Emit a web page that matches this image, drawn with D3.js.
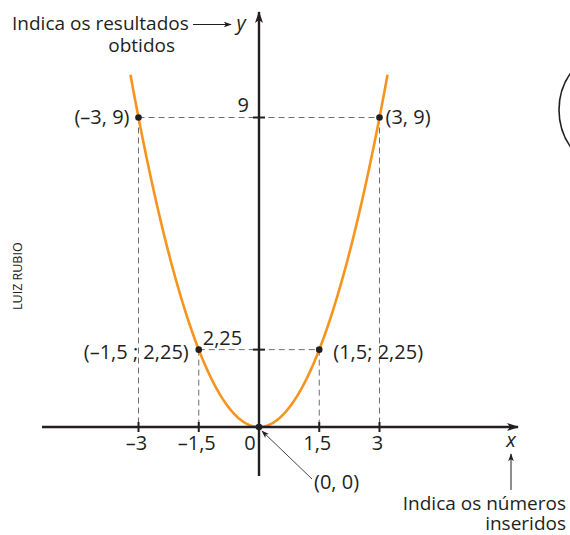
<!DOCTYPE html>
<html>
<head>
<meta charset="utf-8">
<script src="https://cdn.jsdelivr.net/npm/d3@7"></script>
<style>
  html, body { margin: 0; padding: 0; background: #fff; }
  svg text { font-family: "Open Sans", "Noto Sans", sans-serif; fill: #231f20; }
</style>
</head>
<body>
<svg id="chart" width="570" height="535"></svg>
<script>
// y = x² with the highlighted points
const markedX = [-3, -1.5, 0, 1.5, 3];
const markedY = [9, 2.25, 0, 2.25, 9];
const pointLabels = ["(–3, 9)", "(–1,5 ; 2,25)", "(0, 0)", "(1,5; 2,25)", "(3, 9)"];
const xTickValues = [-3, -1.5, 1.5, 3];
const xTickLabels = ["–3", "–1,5", "1,5", "3"];
const yTickValues = [9, 2.25];
const yTickLabels = ["9", "2,25"];
const curveDomain = [-3.2, 3.2];

const svg = d3.select("#chart");
const ink = "#231f20";
const orange = "#f7941d";

const x = d3.scaleLinear().domain([-3, 3]).range([138.5, 379.5]);
const y = d3.scaleLinear().domain([0, 9]).range([427, 117.5]);

// arrowhead markers
const defs = svg.append("defs");
defs.append("marker")
  .attr("id", "head").attr("viewBox", "0 0 12 8")
  .attr("refX", 11).attr("refY", 4)
  .attr("markerWidth", 12).attr("markerHeight", 8)
  .attr("markerUnits", "userSpaceOnUse").attr("orient", "auto")
  .append("path").attr("d", "M0,0 L12,4 L0,8 L3,4 Z").attr("fill", ink);
defs.append("marker")
  .attr("id", "headSmall").attr("viewBox", "0 0 10 7")
  .attr("refX", 9).attr("refY", 3.5)
  .attr("markerWidth", 8).attr("markerHeight", 6)
  .attr("markerUnits", "userSpaceOnUse").attr("orient", "auto")
  .append("path").attr("d", "M0,0 L10,3.5 L0,7 L2.5,3.5 Z").attr("fill", ink);

// dashed guides
const guides = svg.append("g").attr("stroke", "#6d6e71").attr("stroke-width", 1)
  .attr("stroke-dasharray", "6,4").attr("fill", "none");
markedX.forEach((v, i) => {
  if (v === 0) return;
  guides.append("line")
    .attr("x1", x(v)).attr("x2", x(v))
    .attr("y1", y(markedY[i])).attr("y2", y(0));
});
[[-3, 3, 9], [-1.5, 1.5, 2.25]].forEach(([a, b, v]) => {
  guides.append("line")
    .attr("x1", x(a)).attr("x2", x(b))
    .attr("y1", y(v)).attr("y2", y(v));
});

// parabola
const curvePts = d3.range(curveDomain[0], curveDomain[1] + 0.001, 0.02).map(v => [v, v * v]);
svg.append("path")
  .datum(curvePts)
  .attr("fill", "none").attr("stroke", orange).attr("stroke-width", 2.6)
  .attr("d", d3.line().x(d => x(d[0])).y(d => y(d[1])));

// axes
svg.append("line").attr("x1", 42).attr("x2", 518).attr("y1", y(0)).attr("y2", y(0))
  .attr("stroke", ink).attr("stroke-width", 2.4).attr("marker-end", "url(#head)");
svg.append("line").attr("x1", x(0)).attr("x2", x(0)).attr("y1", 476).attr("y2", 12)
  .attr("stroke", ink).attr("stroke-width", 2.4).attr("marker-end", "url(#head)");

// ticks
xTickValues.forEach(v => {
  svg.append("line").attr("x1", x(v)).attr("x2", x(v)).attr("y1", y(0) - 5).attr("y2", y(0) + 5)
    .attr("stroke", ink).attr("stroke-width", 2);
});
yTickValues.forEach(v => {
  svg.append("line").attr("x1", x(0) - 6).attr("x2", x(0) + 6).attr("y1", y(v)).attr("y2", y(v))
    .attr("stroke", ink).attr("stroke-width", 2);
});

// tick labels
const fs = 19;   // words
const fn = 20;   // numbers
xTickValues.forEach((v, i) => {
  svg.append("text").attr("x", x(v) - 2).attr("y", 450).attr("text-anchor", "middle")
    .attr("font-size", fn).text(xTickLabels[i]);
});
svg.append("text").attr("x", x(0) - 9).attr("y", 450).attr("text-anchor", "middle")
  .attr("font-size", fn).text("0");
svg.append("text").attr("x", x(0) - 10).attr("y", y(9) - 6).attr("text-anchor", "end")
  .attr("font-size", fn).text(yTickLabels[0]);
svg.append("text").attr("x", x(-1.5) + 4).attr("y", y(2.25) - 5).attr("text-anchor", "start")
  .attr("font-size", fn).text(yTickLabels[1]);

// points
svg.append("g").selectAll("circle").data(markedX).join("circle")
  .attr("cx", d => x(d)).attr("cy", (d, i) => y(markedY[i])).attr("r", 3.3).attr("fill", ink);

// point labels
const lab = (i, dx, dy, anchor) => svg.append("text")
  .attr("x", x(markedX[i]) + dx).attr("y", y(markedY[i]) + dy)
  .attr("text-anchor", anchor).attr("font-size", fn).text(pointLabels[i]);
lab(0, -9, 6, "end");
lab(4, 6, 6, "start");
lab(1, -10, 9, "end");
lab(3, 14, 9, "start");
svg.append("text").attr("x", 314).attr("y", 489).attr("font-size", fn).text(pointLabels[2]);
svg.append("line").attr("x1", 312).attr("y1", 479).attr("x2", x(0) + 3).attr("y2", y(0) + 4)
  .attr("stroke", "#444").attr("stroke-width", 1).attr("marker-end", "url(#headSmall)");

// axis names
svg.append("text").attr("x", 241).attr("y", 30).attr("font-size", 20).attr("font-style", "italic")
  .attr("text-anchor", "middle").text("y");
svg.append("text").attr("x", 511).attr("y", 447).attr("font-size", 20).attr("font-style", "italic")
  .attr("text-anchor", "middle").text("x");

// two-line annotations
const topNote = svg.append("text").attr("font-size", fs);
topNote.append("tspan").attr("x", 12).attr("y", 30).text("Indica os resultados");
topNote.append("tspan").attr("x", 175).attr("y", 52).attr("text-anchor", "end").text("obtidos");
svg.append("line").attr("x1", 193).attr("x2", 231).attr("y1", 24.5).attr("y2", 24.5)
  .attr("stroke", ink).attr("stroke-width", 1).attr("marker-end", "url(#headSmall)");

const bottomNote = svg.append("text").attr("font-size", fs).attr("text-anchor", "end");
bottomNote.append("tspan").attr("x", 566).attr("y", 510).text("Indica os números");
bottomNote.append("tspan").attr("x", 566).attr("y", 530).text("inseridos");
svg.append("line").attr("x1", 511).attr("x2", 511).attr("y1", 490).attr("y2", 454)
  .attr("stroke", ink).attr("stroke-width", 1).attr("marker-end", "url(#headSmall)");

// credit
svg.append("text").attr("transform", "translate(22,310) rotate(-90)")
  .attr("font-size", 12.5).attr("fill", "#333").text("LUIZ RUBIO");

// arc at right edge
svg.append("circle").attr("cx", 623).attr("cy", 110).attr("r", 64)
  .attr("fill", "none").attr("stroke", ink).attr("stroke-width", 1.6);
</script>
</body>
</html>
